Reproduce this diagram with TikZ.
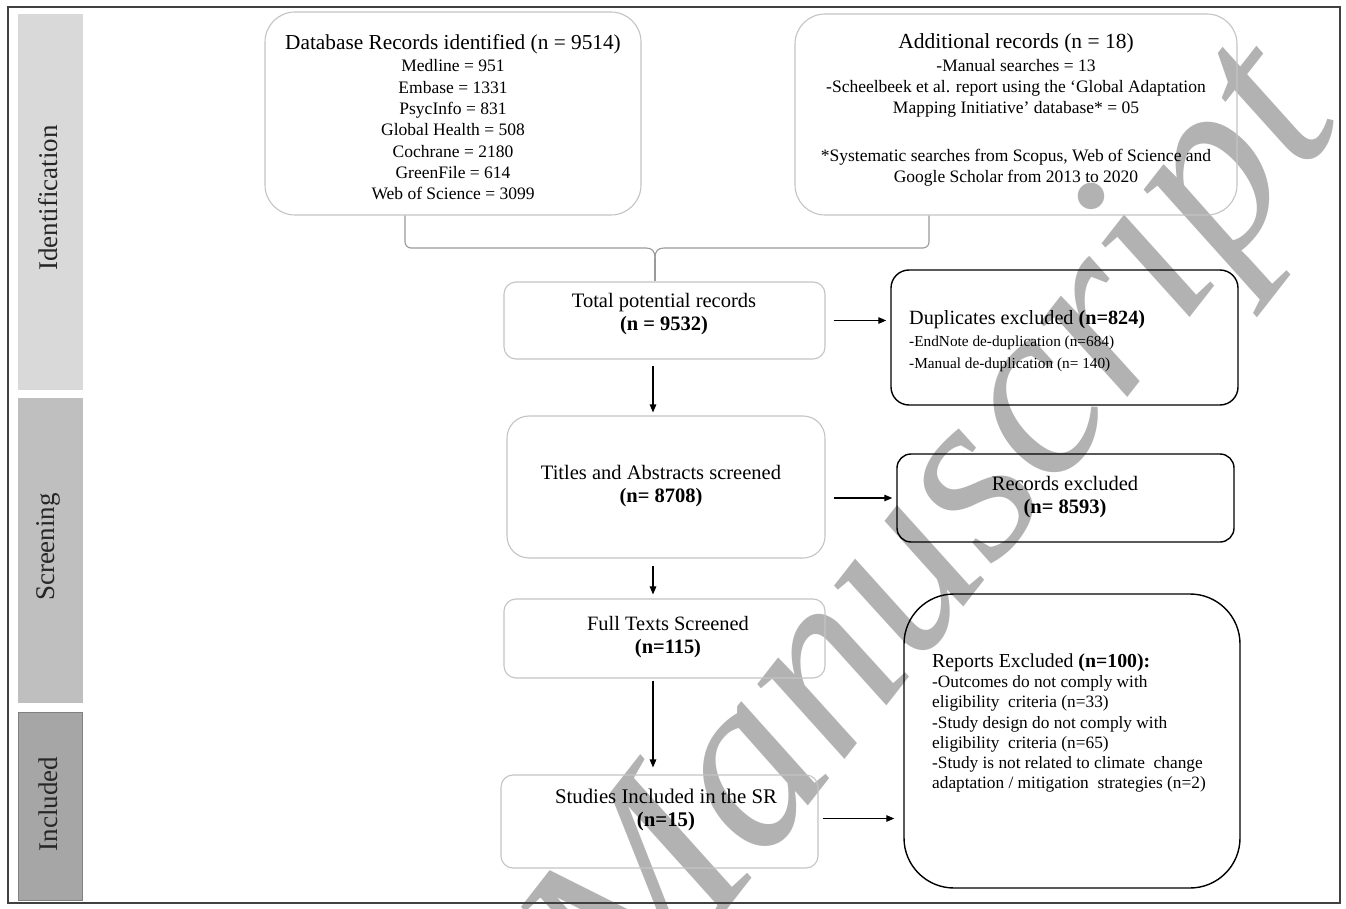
\documentclass[tikz,border=0pt]{standalone}
\usepackage{fontspec}
\setmainfont{Liberation Serif}
\usetikzlibrary{arrows.meta}
\definecolor{bandA}{HTML}{D9D9D9}
\definecolor{bandB}{HTML}{BFBFBF}
\definecolor{bandC}{HTML}{A6A6A6}
\definecolor{softline}{HTML}{C4C4C4}
\definecolor{connline}{HTML}{9A9A9A}
\definecolor{wmgray}{HTML}{B2B2B2}
\definecolor{framecol}{HTML}{404040}
\newcommand{\fsz}[2]{\fontsize{#1}{#2}\selectfont}
\begin{document}
\begin{tikzpicture}[x=1pt,y=-1pt,
  softbox/.style={draw=softline, line width=1.1pt, inner sep=0pt},
  hardbox/.style={draw=black, line width=1.4pt, inner sep=0pt},
  arr/.style={-{Triangle[length=8pt,width=6.5pt]}, line width=1.2pt, draw=black},
  conn/.style={draw=connline, line width=1.1pt},
  txt/.style={inner sep=0pt, align=center, text=black},
  bandlbl/.style={inner sep=0pt, rotate=90, font=\fsz{27}{27}, text=black!85},
  ]
\useasboundingbox (0,0) rectangle (1346,909);
\fill[white] (0,0) rectangle (1346,909);
% watermark
\node[inner sep=0pt, rotate=52, text=wmgray, font=\fsz{250}{250}\itshape] (wm) at (945,540) {Manuscript};
% frame
\node[draw=framecol, line width=1.6pt, minimum width=1332pt, minimum height=896pt, inner sep=0pt] (frame) at (674,455) {};
% phase bands
\node[fill=bandA, minimum width=65pt, minimum height=376pt, inner sep=0pt] (bid) at (50.5,202) {};
\node[fill=bandB, minimum width=65pt, minimum height=305pt, inner sep=0pt] (bsc) at (50.5,550.5) {};
\node[fill=bandC, draw=black!50, line width=0.8pt, minimum width=64pt, minimum height=188pt, inner sep=0pt] (bin) at (50,806) {};
\node[bandlbl] (lid) at (48,198) {Identification};
\node[bandlbl] (lsc) at (48,547) {Screening};
\node[bandlbl] (lin) at (48,804) {Included};
% boxes
\node[softbox, rounded corners=30pt, minimum width=376pt, minimum height=203pt] (db) at (453,113.5) {};
\node[softbox, rounded corners=30pt, minimum width=442pt, minimum height=201pt] (add) at (1016,114.5) {};
\node[softbox, rounded corners=12pt, minimum width=321pt, minimum height=77pt] (total) at (664.5,320.5) {};
\node[hardbox, rounded corners=18pt, minimum width=347pt, minimum height=135pt] (dup) at (1064.5,337.5) {};
\node[softbox, rounded corners=22pt, minimum width=318pt, minimum height=142pt] (titles) at (666,487) {};
\node[hardbox, rounded corners=14pt, minimum width=337pt, minimum height=88pt] (rec) at (1065.5,498) {};
\node[softbox, rounded corners=12pt, minimum width=321pt, minimum height=79pt] (full) at (664.5,638.5) {};
\node[softbox, rounded corners=12pt, minimum width=317pt, minimum height=93pt] (studies) at (659.5,821.5) {};
\node[hardbox, rounded corners=50pt, minimum width=336pt, minimum height=294pt] (rep) at (1072,741) {};
% texts
\node[txt, font=\fsz{17.5}{21.3}] (dbt) at (453,117) {{\fsz{21.3}{21.3}Database Records identified (n = 9514)}\\[1.5pt]
Medline = 951\\ Embase = 1331\\ PsycInfo = 831\\ Global Health = 508\\ Cochrane = 2180\\ GreenFile = 614\\ Web of Science = 3099};
\node[txt, font=\fsz{17.5}{21.3}] (addt) at (1016,110) {{\fsz{21.5}{21.5}Additional records (n = 18)}\\[1.5pt]
-Manual searches = 13\\ -Scheelbeek et al. report using the `Global Adaptation\\ Mapping Initiative' database* = 05\\[26pt]
*Systematic searches from Scopus, Web of Science and\\ Google Scholar from 2013 to 2020};
\node[txt, font=\fsz{20.5}{23}] (totalt) at (664,314) {Total potential records\\ \textbf{(n = 9532)}};
\node[txt, align=left, anchor=west, font=\fsz{15.3}{22}] (dupt) at (909,341) {{\fsz{20.2}{20.2}Duplicates excluded \textbf{(n=824)}}\\
-EndNote de-duplication (n=684)\\ -Manual de-duplication (n= 140)};
\node[txt, font=\fsz{20.5}{22.5}] (titlest) at (661,486) {Titles and Abstracts screened\\ \textbf{(n= 8708)}};
\node[txt, font=\fsz{20.5}{23}] (rect) at (1065,497) {Records excluded\\ \textbf{(n= 8593)}};
\node[txt, font=\fsz{20.4}{22.5}] (fullt) at (668,637) {Full Texts Screened\\ \textbf{(n=115)}};
\node[txt, font=\fsz{20.8}{23}] (studiest) at (666,810) {Studies Included in the SR\\ \textbf{(n=15)}};
\node[txt, align=left, anchor=west, font=\fsz{17.3}{20.3}] (rept) at (932,723) {{\fsz{19.8}{19.8}Reports Excluded \textbf{(n=100):}}\\
-Outcomes do not comply with\\ eligibility\ \ criteria (n=33)\\ -Study design do not comply with\\ eligibility\ \ criteria (n=65)\\ -Study is not related to climate\ \ change\\ adaptation / mitigation\ \ strategies (n=2)};
% bracket connector
\coordinate (jn) at (655,258);
\coordinate (bl) at (405,0);
\coordinate (br) at (929,0);
\coordinate (hl) at (646,248);
\coordinate (hr) at (664,248);
\draw[conn, rounded corners=6pt] (db.south -| bl) -- (bl |- hl) -- (hl);
\draw[conn, rounded corners=6pt] (add.south -| br) -- (br |- hr) -- (hr);
\draw[conn] (hl) .. controls (652,248) and (655,251) .. (jn);
\draw[conn] (hr) .. controls (658,248) and (655,251) .. (jn);
\draw[conn] (jn) -- (total.north -| jn);
% arrows
\draw[arr, shorten <=8pt, shorten >=4pt] (total.east) -- (dup.west |- total.east);
\draw[arr, shorten <=8pt, shorten >=4pt] (titles.east |- rec.west) -- (rec.west);
\draw[arr, shorten <=4pt, shorten >=9pt] ([yshift=3pt]studies.east) -- ([yshift=3pt]rep.west |- studies.east);
\draw[arr, shorten <=6pt, shorten >=3pt] ([xshift=-11.5pt]total.south) -- ([xshift=-11.5pt]total.south |- titles.north);
\draw[arr, shorten <=7pt, shorten >=4pt] ([xshift=-13pt]titles.south) -- ([xshift=-13pt]titles.south |- full.north);
\draw[arr, shorten <=2pt, shorten >=7pt] ([xshift=-11.5pt]full.south) -- ([xshift=-11.5pt]full.south |- studies.north);
\end{tikzpicture}
\end{document}
